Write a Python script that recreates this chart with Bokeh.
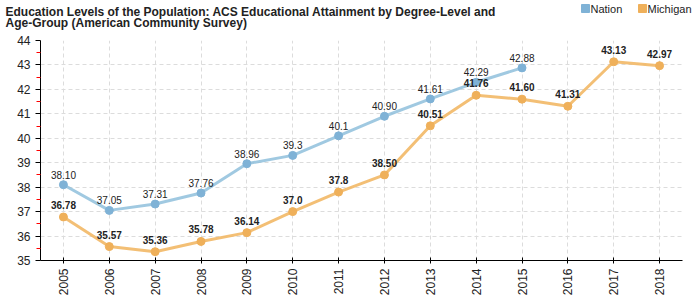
import math
from bokeh.plotting import figure
from bokeh.layouts import column, row
from bokeh.models import ColumnDataSource, Range1d, FixedTicker
from bokeh.embed import file_html
from bokeh.resources import INLINE
from bokeh.core.properties import value

years = [2005, 2006, 2007, 2008, 2009, 2010, 2011, 2012, 2013, 2014, 2015, 2016, 2017, 2018]
nation_years = [2005, 2006, 2007, 2008, 2009, 2010, 2011, 2012, 2013, 2014, 2015]
nation = [38.10, 37.05, 37.31, 37.76, 38.96, 39.3, 40.1, 40.90, 41.61, 42.29, 42.88]
nation_labels = ["38.10", "37.05", "37.31", "37.76", "38.96", "39.3", "40.1", "40.90", "41.61", "42.29", "42.88"]
michigan = [36.78, 35.57, 35.36, 35.78, 36.14, 37.0, 37.8, 38.50, 40.51, 41.76, 41.60, 41.31, 43.13, 42.97]
michigan_labels = ["36.78", "35.57", "35.36", "35.78", "36.14", "37.0", "37.8", "38.50", "40.51", "41.76", "41.60", "41.31", "43.13", "42.97"]
y_ticks = [35, 36, 37, 38, 39, 40, 41, 42, 43, 44]
title_lines = ["Education Levels of the Population: ACS Educational Attainment by Degree-Level and",
               "Age-Group (American Community Survey)"]
series_names = ["Nation", "Michigan"]

FONT = "Liberation Sans"
BLUE = "#8fbfdc"
BLUE_M = "#7fb2d6"
ORANGE = "#f2b866"
ORANGE_M = "#efb05a"

# ---------- header (title + legend), pixel coordinates ----------
h = figure(width=700, height=34, output_backend="svg", toolbar_location=None,
           x_range=Range1d(0, 700), y_range=Range1d(34, 0),
           x_axis_type=None, y_axis_type=None,
           min_border_left=0, min_border_right=0, min_border_top=0, min_border_bottom=0)
h.grid.visible = False
h.outline_line_color = None
h.text(x=[5, 5], y=[11, 22], text=title_lines, text_font=value(FONT),
       text_font_size="12px", text_font_style="bold", text_color="#222222",
       text_baseline="middle")
h.scatter(x=[585, 642], y=[8, 8], marker="square", size=8,
          fill_color=[BLUE_M, ORANGE_M], line_color=[BLUE_M, ORANGE_M])
h.text(x=[590, 647], y=[8, 8], text=series_names, text_font=value(FONT),
       text_font_size="11px", text_color="#222222", text_baseline="middle")

# ---------- main chart ----------
p = figure(width=700, height=266, output_backend="svg", toolbar_location=None,
           x_range=Range1d(2004.5, 2018.5), y_range=Range1d(35, 44),
           min_border_left=40, min_border_right=18, min_border_top=6, min_border_bottom=40)
p.outline_line_color = None

ns = ColumnDataSource(dict(x=nation_years, y=nation, t=nation_labels))
ms = ColumnDataSource(dict(x=years, y=michigan, t=michigan_labels))

p.line("x", "y", source=ns, line_color=BLUE, line_width=3, line_alpha=0.85)
p.scatter("x", "y", source=ns, size=8, fill_color=BLUE_M, line_color=BLUE_M)
p.line("x", "y", source=ms, line_color=ORANGE, line_width=3, line_alpha=0.9)
p.scatter("x", "y", source=ms, size=8, fill_color=ORANGE_M, line_color=ORANGE_M)

p.text("x", "y", text="t", source=ns, text_font=value(FONT), text_font_size="10px",
       text_align="center", text_baseline="bottom", y_offset=-6, text_color="#222222")
p.text("x", "y", text="t", source=ms, text_font=value(FONT), text_font_size="10px",
       text_font_style="bold", text_align="center", text_baseline="bottom", y_offset=-8,
       text_color="#222222")

xa = p.xaxis[0]
xa.ticker = FixedTicker(ticks=years)
xa.major_label_orientation = math.pi / 2
xa.major_label_text_font = FONT
xa.major_label_text_font_size = "12px"
xa.major_label_text_color = "#222222"
xa.axis_line_color = "black"
xa.major_tick_line_color = "black"
xa.major_tick_in = 3
xa.major_tick_out = 3
xa.minor_tick_line_color = None

ya = p.yaxis[0]
ya.ticker = FixedTicker(ticks=y_ticks, minor_ticks=[t + 0.5 for t in y_ticks[:-1]])
ya.major_label_text_font = FONT
ya.major_label_text_font_size = "12px"
ya.major_label_text_color = "#222222"
ya.axis_line_color = "black"
ya.major_tick_line_color = "black"
ya.major_tick_in = 0
ya.major_tick_out = 5
ya.minor_tick_line_color = "red"
ya.minor_tick_in = 0
ya.minor_tick_out = 4

p.xgrid.grid_line_color = "#dcdcdc"
p.xgrid.grid_line_dash = "4 3"
p.ygrid.grid_line_color = "#dcdcdc"
p.ygrid.grid_line_dash = "4 3"

layout = column(row(h), p, spacing=0)
open("out.html", "w").write(file_html(layout, INLINE))
